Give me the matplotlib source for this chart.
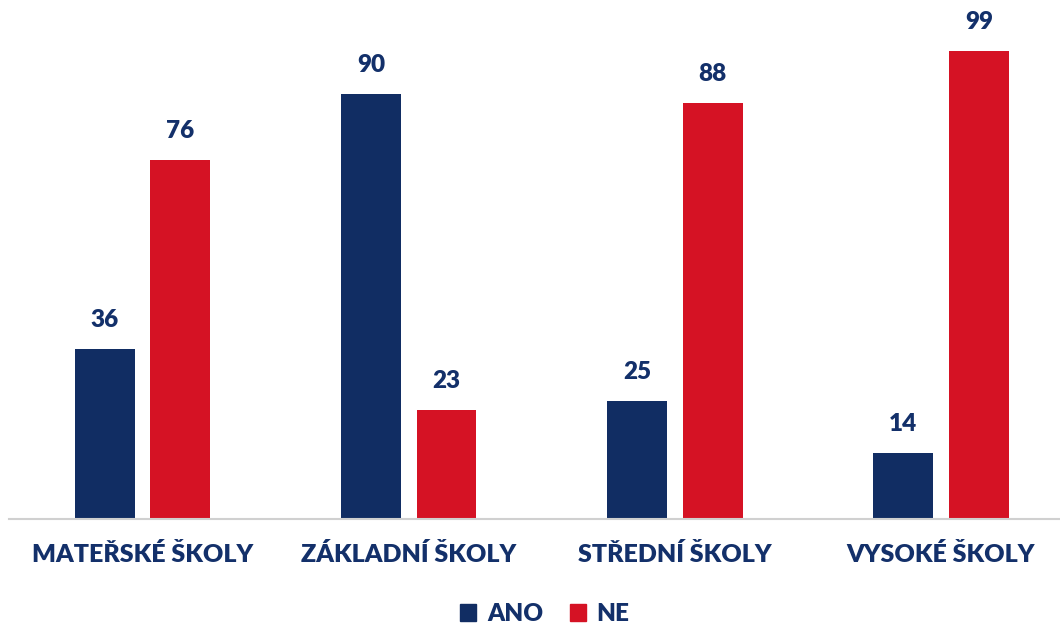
import numpy as np
import matplotlib.pyplot as plt
from matplotlib.patches import Patch

categories = ['MATEŘSKÉ ŠKOLY', 'ZÁKLADNÍ ŠKOLY', 'STŘEDNÍ ŠKOLY', 'VYSOKÉ ŠKOLY']
ano = [36, 90, 25, 14]
ne = [76, 23, 88, 99]

navy = '#112d63'
red = '#d51224'
text_col = '#13306a'

plt.rcParams['font.family'] = ['Lato', 'DejaVu Sans']

fig = plt.figure(figsize=(10.6, 6.27), dpi=100)
ax = fig.add_axes([9 / 1060, 108 / 627, 1051 / 1060, 519 / 627])

x = np.arange(len(categories))
w = 0.225
off = 0.142
b1 = ax.bar(x - off, ano, w, color=navy, label='ANO')
b2 = ax.bar(x + off, ne, w, color=red, label='NE')

for bars, vals in [(b1, ano), (b2, ne)]:
    for rect, v in zip(bars, vals):
        ax.annotate(str(v), (rect.get_x() + rect.get_width() / 2, v),
                    xytext=(0, 13), textcoords='offset points',
                    ha='center', va='bottom', fontsize=17.5, fontweight='heavy',
                    color=text_col)

ax.set_xlim(-0.502, 3.447)
ax.set_ylim(0, 109.8)
ax.set_yticks([])
ax.set_xticks(x)
ax.set_xticklabels(categories, fontsize=18, fontweight='heavy', color=text_col)
ax.tick_params(axis='x', length=0, pad=17)
for s in ['top', 'right', 'left']:
    ax.spines[s].set_visible(False)
ax.spines['bottom'].set_color('#d0d0d0')
ax.spines['bottom'].set_linewidth(1.5)

handles = [Patch(color=navy, label='ANO'), Patch(color=red, label='NE')]
leg = fig.legend(handles=handles, loc='center', bbox_to_anchor=(545 / 1060, 1 - 614 / 627),
                 ncol=2, frameon=False, handlelength=0.65, handleheight=0.65,
                 handletextpad=0.45, columnspacing=1.1,
                 prop={'size': 17.5, 'weight': 'heavy'})
for t in leg.get_texts():
    t.set_color(text_col)

fig.savefig('out.png', dpi=100)
